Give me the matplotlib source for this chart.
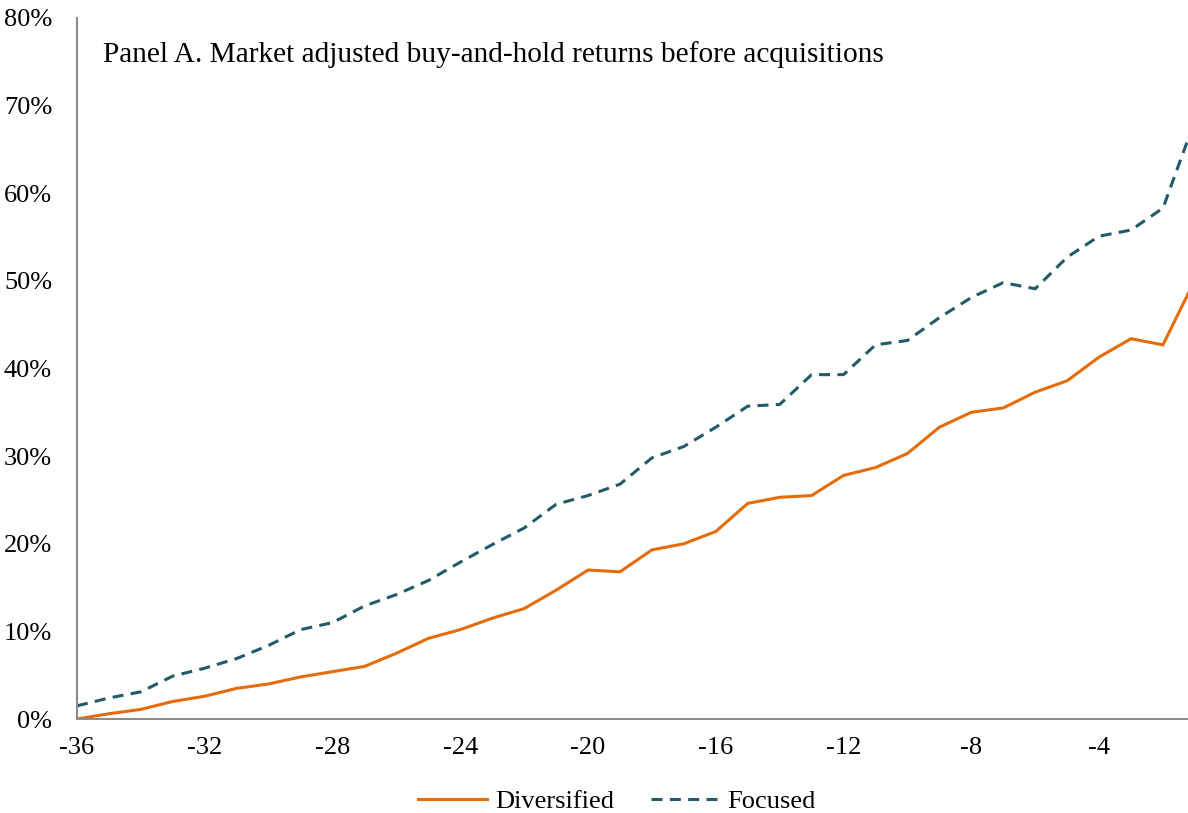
import matplotlib
matplotlib.use("Agg")
import matplotlib.pyplot as plt
from matplotlib.ticker import FuncFormatter, MultipleLocator

months = list(range(-36, 0))
diversified = [0.0, 0.6, 1.1, 2.0, 2.6, 3.5, 4.0, 4.8, 5.4, 6.0,
               7.5, 9.2, 10.2, 11.5, 12.6, 14.7, 17.0, 16.8, 19.3, 20.0,
               21.4, 24.6, 25.3, 25.5, 27.8, 28.7, 30.3, 33.3, 35.0, 35.5,
               37.3, 38.6, 41.3, 43.4, 42.7, 50.1]
focused = [1.5, 2.4, 3.1, 4.9, 5.8, 6.9, 8.4, 10.2, 11.0, 12.9,
           14.2, 15.8, 17.9, 19.9, 21.8, 24.5, 25.5, 26.8, 29.8, 31.1,
           33.3, 35.7, 35.9, 39.3, 39.3, 42.7, 43.2, 45.8, 48.1, 49.8,
           49.1, 52.7, 55.1, 55.8, 58.3, 68.3]
x_ticks = [-36, -32, -28, -24, -20, -16, -12, -8, -4]
title_text = "Panel A. Market adjusted buy-and-hold returns before acquisitions"

plt.rcParams['font.family'] = ['Liberation Serif', 'DejaVu Serif']
plt.rcParams['axes.unicode_minus'] = False

W, H = 1188, 813
fig = plt.figure(figsize=(W / 100, H / 100), dpi=100)
ax = fig.add_axes([77 / W, (H - 719) / H, (W - 77) / W, (719 - 18) / H])

orange = '#E46C0A'
teal = '#215A68'
ax.plot(months, diversified, color=orange, lw=2.2, label='Diversified',
        solid_joinstyle='miter')
ax.plot(months, focused, color=teal, lw=2.2, label='Focused',
        dashes=(3.6, 2.4))

ax.set_xlim(-36, -36 + (W - 77) / 31.94)
ax.set_ylim(0, 80)
ax.set_xticks(x_ticks)
ax.yaxis.set_major_locator(MultipleLocator(10))
ax.yaxis.set_major_formatter(FuncFormatter(lambda v, p: f"{int(round(v))}%"))
ax.tick_params(axis='both', length=0, labelsize=19, colors='black')
ax.tick_params(axis='y', pad=18)
ax.tick_params(axis='x', pad=13)
for s in ['top', 'right']:
    ax.spines[s].set_visible(False)
for s in ['left', 'bottom']:
    ax.spines[s].set_color('#8C8C8C')
    ax.spines[s].set_linewidth(1.5)

ax.text((103 - 77) / (W - 77), 1 - (55 - 18) / (719 - 18), title_text,
        transform=ax.transAxes, fontsize=21.2, va='center', ha='left')

fig.legend(loc='center', bbox_to_anchor=(617 / W, 1 - 801 / H), ncol=2,
           frameon=False, fontsize=19, handlelength=2.6, columnspacing=1.4,
           handletextpad=0.3)

fig.savefig('out.png', dpi=100)
